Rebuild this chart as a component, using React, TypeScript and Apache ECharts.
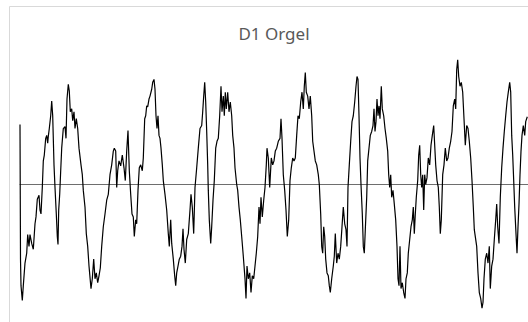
import React, { useEffect, useRef } from "react";
import * as echarts from "echarts";

const chartTitle = "D1 Orgel";

// sample position (time axis units) and amplitude
const time: number[] = [
  0, 0.5, 1, 2.3, 3.3, 5, 6.7, 7.7, 9, 10, 11.7, 13.3, 15, 16, 17.3, 19, 20, 21, 22.3, 23.3, 24.3, 25.7, 26.7, 27.7, 28.3, 29.3,
  30.7, 31.7, 32.7, 34, 35, 36.3, 37.3, 38, 38.7, 39.7, 40.7, 41.7, 43.3, 45, 46, 47, 48.3, 49.3, 50.3, 51.7, 52.7, 54, 55, 56.3,
  57.7, 59, 61, 62.3, 63.3, 65, 66.3, 67.7, 69, 71, 72.3, 73.7, 75, 76.3, 77.7, 79, 80.3, 81.7, 83.3, 85, 86.7, 88.3, 90, 91.7,
  93.3, 94.3, 95.7, 96.7, 97.7, 99, 100.7, 102.3, 104, 105.3, 106.7, 108, 109.3, 110.7, 112, 113.3, 114.3, 115.7, 116.7, 118,
  119.3, 120.7, 122.3, 123.3, 124.7, 125.7, 126.7, 127.7, 129, 130, 131.7, 132.7, 134, 135, 136, 137, 138, 139, 140, 141, 142.3,
  143.3, 145, 146.7, 148.3, 149.3, 150.7, 151.7, 153.3, 154.7, 155.7, 156.7, 158, 159.3, 160.7, 162, 163, 164, 165.3, 166.7,
  168.3, 170, 171, 172.3, 173.7, 175, 176.7, 178.3, 180, 181.7, 182.7, 183.7, 184.7, 185.7, 186.7, 187.7, 188.3, 189.3, 190.7,
  191.7, 193, 194.3, 195.7, 197, 198.3, 199.7, 201, 202, 203.3, 204.3, 205.3, 206.3, 207.7, 209, 210.3, 211.7, 212.7, 214, 215,
  216.7, 217.7, 219, 220.3, 221.7, 223.3, 225, 226, 227, 228.3, 229.7, 231, 232.3, 233.7, 235, 236.3, 237.7, 239, 240, 241,
  242.3, 243.7, 245, 246.3, 247, 248.3, 249.7, 251.3, 252.7, 254, 255.3, 256.7, 258.3, 260, 261, 262, 263.3, 264.7, 266, 267.3,
  268.7, 270, 271.3, 272.7, 274, 275.3, 276.7, 278, 279.3, 280.7, 282, 283.3, 284.3, 285.3, 286.3, 287.7, 289, 290.3, 291.7,
  292.7, 294, 295.3, 296.7, 298.3, 299.3, 300.7, 301.7, 302.7, 303.7, 304.7, 305.7, 307, 308.3, 309.3, 310.3, 311.7, 313.3,
  314.3, 315.3, 316.7, 318, 319.3, 320.7, 322, 323.3, 324.7, 326, 327, 328, 329.3, 330.7, 332, 333.3, 334.7, 336, 337, 338, 339,
  340, 341, 342.3, 343.3, 344.3, 345.3, 346.7, 347.7, 349, 350.3, 351.7, 353, 354, 355, 356, 357, 358, 359, 360, 361.3, 362.3,
  363.7, 365, 366.3, 367.7, 368.7, 369.7, 370.7, 371.7, 373, 374.3, 375.7, 377, 378, 379, 380, 381, 382.3, 383.7, 385, 386,
  387.3, 388.3, 389.7, 391, 392.3, 393.3, 394.3, 395.3, 396.3, 397.7, 398.7, 399.7, 400.7, 401.7, 402.7, 403.7, 404.7, 405.7,
  407, 408.3, 409.7, 411, 412.3, 413.7, 414.7, 415.7, 417, 418.3, 419.3, 420.3, 421.3, 422.7, 424, 425.3, 426.7, 428, 429.3,
  430.7, 432, 433.3, 434.7, 435.7, 436.7, 437.7, 438.7, 440, 441.3, 442.7, 444, 445.3, 446.7, 448, 449.3, 450.7, 452, 453.3,
  454.3, 455.3, 456.7, 458, 459.3, 460.7, 462, 463, 464, 465.3, 466.7, 468, 469.3, 470.3, 471.7, 473, 474.3, 475.7, 476.7,
  477.7, 479, 480.3, 481.7, 483, 484.3, 485.7, 487, 488.3, 489.7, 490.7, 491.7, 492.7, 493.7, 494.7, 496, 497, 498, 499, 500,
  501, 502, 503.3, 504.7, 505.7, 507.3,
];

const amplitude: number[] = [
  61, -76, -103, -118, -103, -80, -70, -51, -63, -51, -60, -66, -40, -33, -15, -11, -26, -30, -3, 24, 30, 47, 50, 42, 49, 57,
  70, 85, 70, 20, -3, -30, -53, -61, -26, -10, 14, 37, 57, 59, 47, 87, 102, 95, 74, 77, 65, 74, 57, 67,
  57, 37, 20, 10, -6, -23, -50, -63, -83, -106, -96, -76, -96, -90, -100, -93, -85, -63, -43, -30, -16, -10, 10, 20,
  34, 37, 34, -3, 14, 24, 19, 30, 17, 4, 34, 55, 14, -10, -30, -33, -53, -36, -40, -6,
  17, 20, 14, 27, 67, 70, 80, 79, 87, 90, 97, 104, 107, 97, 70, 57, 70, 50, 47, 37, 20,
  4, -10, -26, -50, -63, -36, -60, -76, -93, -103, -90, -83, -76, -73, -63, -45, -66, -80, -56,
  -50, -26, -10, -23, -50, -3, 17, 37, 57, 60, 74, 90, 104, 84, 54, 20, -6, -36, -60,
  -43, -16, 4, 37, 44, 47, 70, 100, 74, 90, 70, 94, 77, 94, 74, 84, 70, 50, 37, 17,
  0, -6, -23, -36, -53, -73, -96, -116, -83, -96, -90, -110, -93, -96, -83, -70, -53, -23, -40, -13,
  -33, -16, -3, 20, 37, 27, -3, 27, 20, 24, 34, 37, 44, 47, 67, 47, 10, -6, -26, -53,
  -36, 4, 17, 27, 24, 27, 50, 70, 67, 84, 94, 77, 100, 114, 94, 90, 77, 90, 70,
  44, 34, 24, 20, 10, 0, -30, -63, -70, -43, -53, -76, -90, -93, -103, -110, -96, -83,
  -73, -50, -80, -70, -76, -63, -43, -23, -40, -46, -63, -3, 20, 44, 64, 70, 84, 100, 110, 107, 70,
  27, 0, -30, -63, -70, -46, -13, 24, 37, 50, 54, 60, 77, 54, 64, 87, 70, 80, 67, 100, 77,
  70, 57, 47, 34, 10, -3, 10, -13, -6, -20, -36, -63, -96, -103, -63, -106, -100, -110, -116, -96,
  -90, -70, -56, -43, -36, -23, -50, -30, -13, 4, 30, 40, 10, -3, 10, -26, 10, 0,
  7, 27, 20, 40, 50, 60, 40, 20, 4, -3, -23, -50, -36, 10, 20, 37, 24, 27, 37,
  44, 54, 80, 87, 77, 117, 127, 110, 100, 104, 94, 67, 40, 60, 57, 44, 27, 4, -23,
  -46, -53, -63, -90, -110, -116, -126, -120, -96, -76, -70, -80, -63, -106, -83, -76, -56, -36, -20,
  -43, -60, -13, 17, 37, 54, 70, 84, 94, 104, 94, 50, 30, 4, -23, -50, -70, -43, -20, 10,
  34, 50, 60, 50, 64, 69,
];

const axisMin = -140;
const axisMax = 140;
const timeMax = 508;

export default function App() {
  const ref = useRef<HTMLDivElement>(null);

  useEffect(() => {
    if (!ref.current) return;
    const chart = echarts.init(ref.current, undefined, { renderer: "svg" });
    const n = Math.min(time.length, amplitude.length);
    const data: [number, number][] = [];
    for (let i = 0; i < n; i++) data.push([time[i], amplitude[i]]);

    chart.setOption({
      animation: false,
      backgroundColor: "#ffffff",
      grid: { left: 20, top: 47, width: 508, height: 280, containLabel: false },
      xAxis: {
        type: "value",
        min: 0,
        max: timeMax,
        axisLine: { show: true, onZero: true, lineStyle: { color: "#6e6e6e", width: 1.2 } },
        axisTick: { show: false },
        axisLabel: { show: false },
        splitLine: { show: false },
      },
      yAxis: {
        type: "value",
        min: axisMin,
        max: axisMax,
        axisLine: { show: false },
        axisTick: { show: false },
        axisLabel: { show: false },
        splitLine: { show: false },
      },
      graphic: [
        {
          type: "rect",
          shape: { x: 9.5, y: 6.5, width: 600, height: 400 },
          style: { fill: "none", stroke: "#d9d9d9", lineWidth: 1 },
          silent: true,
          z: -10,
        },
        {
          type: "text",
          x: 274,
          y: 33,
          style: {
            text: chartTitle,
            fill: "#595959",
            font: "17px 'Noto Sans'",
            textAlign: "center",
            textVerticalAlign: "middle",
          },
        },
      ],
      series: [
        {
          type: "line",
          data,
          showSymbol: false,
          symbol: "none",
          lineStyle: { color: "#000000", width: 1.2 },
          clip: false,
        },
      ],
    });

    return () => chart.dispose();
  }, []);

  return (
    <div
      ref={ref}
      style={{ position: "absolute", left: 0, top: 0, width: 528, height: 322, overflow: "hidden" }}
    />
  );
}
